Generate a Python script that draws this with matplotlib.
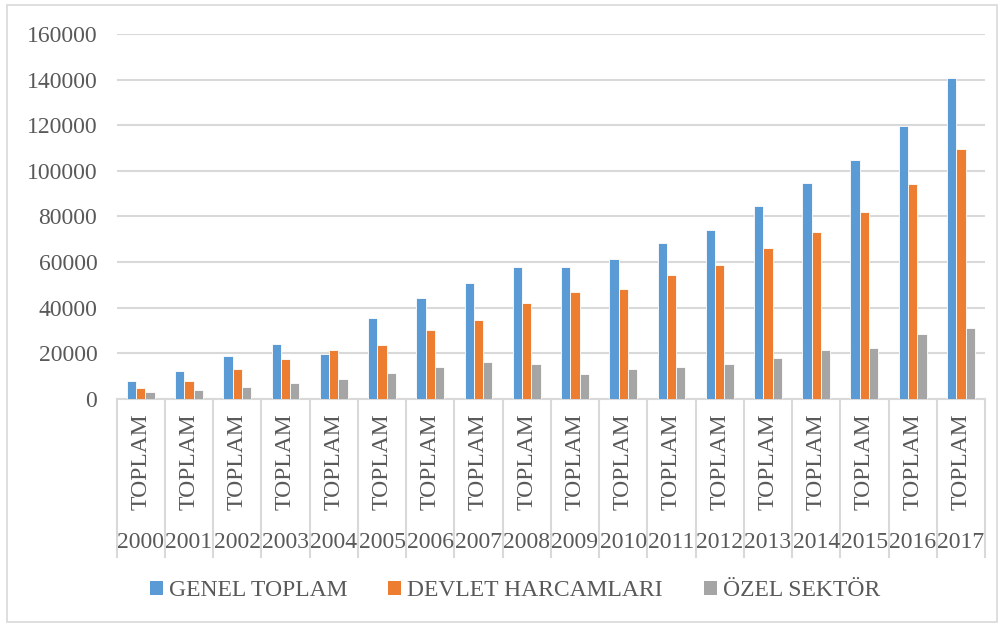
import numpy as np
import matplotlib
matplotlib.use('Agg')
from matplotlib import pyplot as plt
from matplotlib.patches import Patch, Rectangle
from matplotlib.lines import Line2D

plt.rcParams['font.family'] = ['Liberation Serif', 'DejaVu Serif']

years = ['2000', '2001', '2002', '2003', '2004', '2005', '2006', '2007', '2008',
         '2009', '2010', '2011', '2012', '2013', '2014', '2015', '2016', '2017']
sub_label = 'TOPLAM'
genel_toplam = [8100, 12200, 18700, 24100, 19900, 35300, 44200, 50800, 57800,
                57800, 61400, 68500, 74100, 84400, 94700, 104700, 119700, 140600]
devlet = [4900, 8100, 13100, 17400, 21300, 23800, 30200, 34600, 42000,
          46900, 48300, 54400, 58600, 66200, 73400, 82000, 94200, 109800]
ozel = [2900, 3800, 5400, 6800, 8600, 11300, 14000, 16200, 15300,
        10900, 13100, 13900, 15300, 18100, 21300, 22400, 28600, 31000]
series_names = ['GENEL TOPLAM', 'DEVLET HARCAMLARI', 'ÖZEL SEKTÖR']
colors = ['#5B9BD5', '#ED7D31', '#A5A5A5']

text_col = '#595959'
grid_col = '#D9D9D9'

fig = plt.figure(figsize=(10.04, 6.26), dpi=100)
ax = fig.add_axes([116.7 / 1004, 1 - 399 / 626, (985 - 116.7) / 1004, 365 / 626])

x = np.arange(len(years))
w = 1 / (3 + 2.19)
for i, vals in enumerate([genel_toplam, devlet, ozel]):
    ax.bar(x + (i - 1) * w, vals, width=w, color=colors[i],
           edgecolor='white', linewidth=0.6, zorder=3)

ax.set_xlim(-0.5, len(years) - 0.5)
ax.set_ylim(0, 160000)
ax.set_yticks(range(0, 160001, 20000))
ax.tick_params(axis='y', length=0, pad=14, labelsize=17, labelcolor=text_col)
ax.set_xticks([])
ax.grid(axis='y', color=grid_col, linewidth=1.5, zorder=0)
for s in ['left', 'right', 'top']:
    ax.spines[s].set_visible(False)
ax.spines['bottom'].set_color(grid_col)
ax.spines['bottom'].set_linewidth(1.5)

# multi-level category labels
tr = ax.get_xaxis_transform()
for k in range(len(years) + 1):
    ax.add_line(Line2D([k - 0.5, k - 0.5], [0, -0.433], transform=tr,
                       color=grid_col, linewidth=1.5, clip_on=False))
for k, yr in enumerate(years):
    ax.text(k, -0.172, sub_label, transform=tr, rotation=90, ha='center',
            va='center', fontsize=17, color=text_col)
    ax.text(k, -0.393, yr, transform=tr, ha='center', va='center',
            fontsize=17, color=text_col)

handles = [Patch(facecolor=c, edgecolor='none') for c in colors]
fig.legend(handles, series_names, loc='center', bbox_to_anchor=(515 / 1004, 1 - 591 / 626),
           ncol=3, frameon=False, fontsize=17, labelcolor=text_col,
           handlelength=0.55, handleheight=0.55, handletextpad=0.25,
           columnspacing=1.75)

fig.add_artist(Rectangle((7 / 1004, 4 / 626), 990 / 1004, 617 / 626,
                         transform=fig.transFigure, fill=False,
                         edgecolor=grid_col, linewidth=1.2))

plt.savefig('out.png', dpi=100)
